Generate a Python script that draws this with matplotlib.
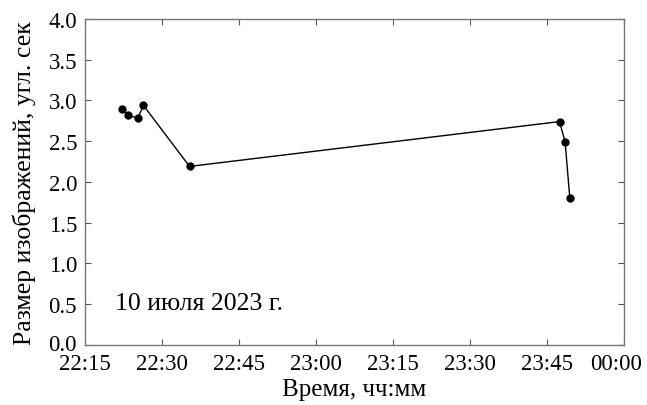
import datetime as dt
import matplotlib
matplotlib.use("Agg")
import matplotlib.pyplot as plt
import matplotlib.dates as mdates
import matplotlib.transforms as mtransforms

# time of observation (hh:mm:ss) and image size, arcsec
times = ["22:22:20", "22:23:25", "22:25:20", "22:26:25", "22:35:25",
         "23:47:30", "23:48:35", "23:49:30"]
sizes = [2.89, 2.82, 2.78, 2.94, 2.19, 2.74, 2.49, 1.80]

xticks = ["22:15", "22:30", "22:45", "23:00", "23:15", "23:30", "23:45", "00:00"]

base = dt.datetime(2023, 7, 10)
def to_dt(s):
    h, m, *sec = [int(v) for v in s.split(":")]
    d = base + dt.timedelta(hours=h, minutes=m, seconds=sec[0] if sec else 0)
    if h < 12:
        d += dt.timedelta(days=1)
    return d

x = [to_dt(t) for t in times]
tick_pos = [to_dt(t) for t in xticks]

plt.rcParams['font.family'] = ['Liberation Serif', 'DejaVu Serif']

fig = plt.figure(figsize=(6.47, 4.06), dpi=100)
ax = fig.add_axes([0.131, 0.148, 0.833, 0.803])

ax.plot(x, sizes, color='black', lw=1.0, marker='o', ms=5)

ax.set_xlim(tick_pos[0], tick_pos[-1])
ax.set_xticks(tick_pos)
ax.xaxis.set_major_formatter(mdates.DateFormatter("%H:%M"))
ax.set_ylim(0, 4.0)
ax.set_yticks([i * 0.5 for i in range(9)])
ax.yaxis.set_major_formatter(matplotlib.ticker.FormatStrFormatter("%.1f"))

ax.tick_params(direction='in', top=True, right=True, length=4, width=0.8,
               labelsize=16.5, color='#555555')
ax.tick_params(axis='x', pad=5.5)
ax.tick_params(axis='y', pad=5.5)
for sp in ax.spines.values():
    sp.set_color('#777777')
    sp.set_linewidth(1.0)

# nudge the corner labels a little, as in the original
last = ax.get_xticklabels()[-1]
last.set_transform(last.get_transform() +
                   mtransforms.ScaledTranslation(-0.08, 0, fig.dpi_scale_trans))
first = ax.get_yticklabels()[0]
first.set_transform(first.get_transform() +
                    mtransforms.ScaledTranslation(0, 0.03, fig.dpi_scale_trans))

ax.set_xlabel("Время, чч:мм", fontsize=18, labelpad=3)
ax.set_ylabel("Размер изображений, угл. сек", fontsize=18.5, labelpad=9)
ax.text(0.056, 0.11, "10 июля 2023 г.", transform=ax.transAxes,
        fontsize=18.5, va='baseline')

fig.savefig("out.png", dpi=100)
